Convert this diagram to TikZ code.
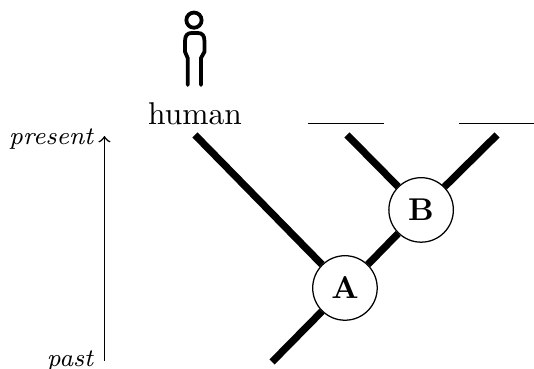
\documentclass[tikz,border=0pt]{standalone}
\tikzset{
    branch/.style={line width=2.3pt},
    ancestor/.style={circle, draw, fill=white, minimum size=0.72cm, inner sep=0pt, font=\bfseries},
    era/.style={left, font=\footnotesize\itshape},
    figure/.style={line width=1.2pt, line cap=round}
}
\begin{document}
\begin{tikzpicture}
    \useasboundingbox (0,0) rectangle (5.96,4.118);

    % Time axis
    \coordinate (past) at (1.166,0.089);
    \coordinate (present) at (1.166,2.60);
    \draw[->, line width=0.5pt] (past) node[era] {past} -- (present) node[era, yshift=-1pt] {present};

    % Human figure
    \node (human) at (2.176,2.846) {human};
    \draw[figure] (2.165,3.893) circle (0.085cm);
    \draw[figure] (2.095,3.17) -- (2.095,3.47) -- (2.065,3.54) -- (2.065,3.66)
        .. controls (2.065,3.72) and (2.09,3.75) .. (2.14,3.75) -- (2.207,3.75)
        .. controls (2.257,3.75) and (2.282,3.72) .. (2.282,3.66) -- (2.282,3.54)
        -- (2.243,3.47) -- (2.243,3.17);

    % Blank labels
    \coordinate (blankBl) at (3.44,2.738);
    \coordinate (blankBr) at (4.29,2.738);
    \coordinate (blankCl) at (5.12,2.738);
    \coordinate (blankCr) at (5.96,2.738);
    \draw (blankBl) -- (blankBr);
    \draw (blankCl) -- (blankCr);

    % Ancestors
    \node[ancestor] (A) at (3.85,0.904) {A};
    \node[ancestor] (B) at (4.70,1.775) {B};

    % Tree
    \coordinate (root) at (3.036,0.078);
    \coordinate (tipH) at (2.176,2.612);
    \coordinate (tipB) at (3.873,2.612);
    \coordinate (tipC) at (5.547,2.612);
    \draw[branch] (root) -- (A);
    \draw[branch] (tipH) -- (A);
    \draw[branch] (A) -- (B);
    \draw[branch] (tipB) -- (B);
    \draw[branch] (tipC) -- (B);
\end{tikzpicture}
\end{document}
